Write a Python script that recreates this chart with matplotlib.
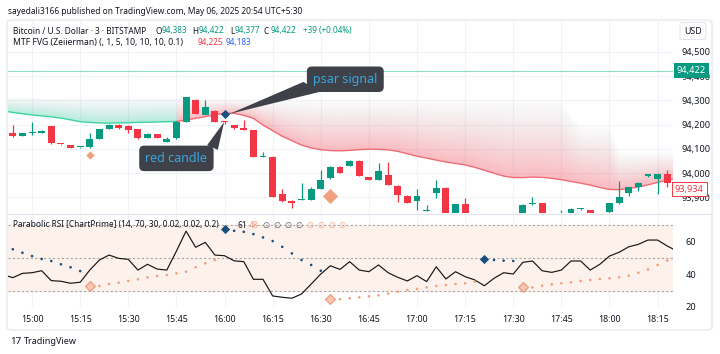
import matplotlib
matplotlib.use('Agg')
import matplotlib.pyplot as plt
import matplotlib.transforms as mtransforms
from matplotlib.patches import FancyBboxPatch, Polygon
import numpy as np

plt.rcParams['font.family'] = ['Noto Sans', 'DejaVu Sans']

# ---- data (3 min bars, index 0 = 15:00) ----
bars = list(range(-2, 67))
opens = [94165, 94155, 94165, 94167, 94195, 94121, 94116, 94106, 94107, 94142,
         94182, 94199, 94195, 94182, 94144, 94162, 94130, 94144, 94212, 94302,
         94240, 94258, 94212, 94199, 94185, 94178, 94067, 94068, 93915, 93887,
         93891, 93890, 93934, 93979, 94027, 94030, 94052, 93984, 93972, 93993,
         93948, 93907, 93887, 93845, 93918, 93941, 93830, 93872, 93815, 93800,
         93820, 93790, 93805, 93815, 93874, 93877, 93810, 93800, 93815, 93852,
         93848, 93805, 93842, 93877, 93918, 93942, 93990, 93977, 93997]
highs = [94199, 94167, 94212, 94177, 94196, 94122, 94118, 94108, 94166, 94183,
         94201, 94201, 94197, 94184, 94164, 94163, 94151, 94214, 94314, 94304,
         94302, 94260, 94213, 94200, 94219, 94179, 94089, 94069, 93934, 93889,
         93959, 93945, 94014, 94028, 94029, 94053, 94054, 93986, 94044, 94048,
         93950, 93909, 93934, 93869, 93972, 93943, 93874, 93898, 93825, 93838,
         93828, 93815, 93825, 93872, 93900, 93879, 93820, 93848, 93855, 93858,
         93850, 93830, 93879, 93966, 93945, 93962, 93998, 93999, 94014]
lows = [94151, 94153, 94158, 94166, 94121, 94118, 94103, 94104, 94105, 94140,
        94180, 94183, 94167, 94142, 94143, 94143, 94128, 94142, 94210, 94243,
        94238, 94209, 94201, 94184, 94177, 94067, 94066, 93900, 93882, 93856,
        93890, 93889, 93933, 93977, 93999, 94029, 93988, 93971, 93970, 93951,
        93883, 93878, 93849, 93843, 93897, 93790, 93820, 93815, 93780, 93795,
        93780, 93770, 93795, 93810, 93870, 93800, 93790, 93795, 93810, 93848,
        93800, 93795, 93820, 93875, 93905, 93925, 93984, 93915, 93945]
closes = [94153, 94165, 94167, 94175, 94123, 94119, 94105, 94107, 94141, 94181,
          94199, 94185, 94178, 94144, 94162, 94144, 94140, 94212, 94313, 94244,
          94274, 94210, 94209, 94185, 94178, 94068, 94069, 93901, 93887, 93877,
          93894, 93934, 93972, 94027, 94000, 94052, 93989, 93972, 94009, 93952,
          93911, 93879, 93907, 93847, 93941, 93800, 93872, 93820, 93790, 93834,
          93790, 93805, 93815, 93870, 93877, 93810, 93800, 93832, 93852, 93853,
          93805, 93825, 93877, 93901, 93942, 93959, 93995, 93997, 93961]

# MTF FVG line and the top of its shaded zone
fvg_bars = list(range(-3, 68))
fvg_line = [94257, 94250, 94245, 94240, 94236, 94232, 94227, 94220, 94212, 94209,
            94207, 94206, 94207, 94208, 94209, 94210, 94211, 94212, 94213, 94219,
            94226, 94233, 94240, 94247, 94247, 94238, 94226, 94198, 94175, 94152,
            94134, 94116, 94104, 94097, 94093, 94092, 94094, 94097, 94099, 94098,
            94096, 94090, 94080, 94070, 94062, 94054, 94046, 94040, 94034, 94024,
            94012, 94000, 93988, 93982, 93982, 93984, 93983, 93979, 93973, 93966,
            93959, 93951, 93941, 93933, 93932, 93937, 93943, 93952, 93962, 93972,
            93978]
fvg_top = [94312] * 19 + [94305] * 40 + [94240, 94195, 94195, 94195, 94195] + [94085] * 7
fvg_bull_until = 15

# Parabolic RSI
rsi_bars = list(range(-3, 68))
rsi = [39.5, 37.8, 40.4, 40.8, 42.0, 36.0, 35.6, 34.4, 35.0, 42.4,
       48.5, 51.5, 49.5, 48.9, 42.4, 45.9, 43.0, 42.4, 53.9, 66.0,
       56.2, 59.2, 51.5, 51.1, 48.0, 47.5, 36.8, 36.8, 26.7, 25.9,
       25.3, 27.9, 33.9, 40.0, 45.0, 42.8, 47.5, 42.4, 41.4, 45.5,
       40.8, 38.0, 35.8, 39.0, 35.4, 44.4, 37.0, 41.4, 38.4, 36.4,
       32.9, 37.4, 40.8, 40.0, 47.1, 47.9, 42.0, 41.0, 42.4, 47.9,
       47.9, 42.4, 45.9, 50.9, 53.2, 56.5, 58.0, 60.6, 60.6, 57.0,
       54.0]
sar_bars = list(range(-2, 67))
sar = [55.0, 52.9, 50.9, 49.1, 47.9, 45.9, 44.1, 41.8,
       32.9, 32.7, 33.9, 34.7, 35.8, 36.8, 38.0, 38.8, 39.4, 40.4, 41.4, 44.1, 46.5, 48.5,
       67.1, 66.2, 65.6, 64.2, 62.2, 60.0, 56.5, 52.5, 48.5, 45.5, 42.0,
       24.7, 24.7, 25.3, 25.9, 26.5, 27.1, 28.1, 29.3, 30.3, 30.9, 31.9, 32.7, 33.3, 33.9, 34.4, 35.4,
       48.9, 48.5, 48.1, 47.9,
       31.9, 31.9, 32.9, 33.7, 34.4, 35.0, 35.8, 36.4, 37.0, 37.4, 38.0, 39.0, 40.8, 42.8, 45.5, 48.1]
sar_trend = [-1] * 8 + [1] * 14 + [-1] * 11 + [1] * 16 + [-1] * 4 + [1] * 16

# signals shown on the price pane
sig_bars = [6, 20, 31]
sig_prices = [94075, 94244, 93907]
sig_trend = [1, -1, 1]
sig_sizes = [18, 22, 60]

tick_bars = list(range(0, 66, 5))
tick_labels = ['15:00', '15:15', '15:30', '15:45', '16:00', '16:15', '16:30',
               '16:45', '17:00', '17:15', '17:30', '17:45', '18:00', '18:15']
price_ticks = [93900, 94000, 94100, 94200, 94300, 94400, 94500]
last_price = 94422
fvg_last = 93934

UP = '#089981'
DN = '#F23645'
SAL = '#EFA07E'
NAVY = '#17507F'
GRID = '#F0F3FA'
TXT = '#131722'

W, H = 720, 354
fig = plt.figure(figsize=(7.2, 3.54), dpi=100)
fx = lambda px: px / W
fy = lambda py: 1 - py / H

# chart frame (behind the axes)
frame = FancyBboxPatch((fx(7), fy(330)), fx(705), 310 / H,
                       boxstyle='round,pad=0,rounding_size=0.008',
                       transform=fig.transFigure, fc='white', ec='#E0E3EB', lw=0.8, zorder=-10)
fig.patches.append(frame)

ax = fig.add_axes([fx(8), fy(213), 665 / W, 193 / H])
ax2 = fig.add_axes([fx(8), fy(307), 665 / W, 93 / H], sharex=ax)
for a in (ax, ax2):
    for s in a.spines.values():
        s.set_visible(False)
    a.set_facecolor('none')
ax.set_xlim(-2.5, 66.6)
ax.set_ylim(93836, 94631)
ax2.set_ylim(20, 76.4)

# grid
for a in (ax, ax2):
    for t in tick_bars:
        a.axvline(t, color=GRID, lw=0.8, zorder=0)
for p in price_ticks:
    ax.axhline(p, color=GRID, lw=0.8, zorder=0)
for p in (20, 40, 60):
    ax2.axhline(p, color=GRID, lw=0.8, zorder=0)

# FVG gradient zone
xs = np.linspace(-3, 67, 900)
ys = np.linspace(93836, 94631, 300)
ln = np.interp(xs, fvg_bars, fvg_line)
tp = np.interp(xs, fvg_bars, fvg_top)
t = (ys[:, None] - ln[None, :]) / (tp - ln)[None, :]
inside = (t >= 0) & (t <= 1)
t = np.clip(t, 0, 1)
red = np.array([242, 54, 69]) / 255
grn = np.array([34, 200, 150]) / 255
gray = np.array([190, 192, 198]) / 255
base = np.where((xs <= fvg_bull_until)[None, :, None], grn, red)
rgb = base * (1 - t[..., None]) + gray * t[..., None]
alpha = np.where(inside, 0.34 * (1 - t) ** 0.55, 0)
img = np.dstack([rgb, alpha])
ax.imshow(img, extent=(xs[0], xs[-1], ys[0], ys[-1]), origin='lower', aspect='auto',
          interpolation='bilinear', zorder=1)
fb = np.array(fvg_bars)
fl = np.array(fvg_line)
ax.plot(fb[fb <= fvg_bull_until], fl[fb <= fvg_bull_until], color='#3FD3A2', lw=1, zorder=2)
ax.plot(fb[fb >= fvg_bull_until], fl[fb >= fvg_bull_until], color='#EE6B76', lw=1, zorder=2)

ax.axhline(last_price, color='#5FCFAE', lw=0.8, alpha=0.7, zorder=2)

# candles
o = np.array(opens); c = np.array(closes)
cols = [UP if cc >= oo else DN for oo, cc in zip(opens, closes)]
ax.vlines(bars, lows, highs, colors=cols, lw=0.9, zorder=3)
bot = np.minimum(o, c)
hgt = np.maximum(np.abs(c - o), 4)
ax.bar(bars, hgt, bottom=bot, width=0.72, color=cols, lw=0, zorder=4)

for b, p, tr, s in zip(sig_bars, sig_prices, sig_trend, sig_sizes):
    ax.scatter(b, p, marker='D', s=s, color=SAL if tr > 0 else NAVY, lw=0, zorder=5)

# RSI pane
ax2.axhspan(30, 70, color='#FDF1EB', zorder=0)
for lv in (70, 50, 30):
    ax2.axhline(lv, color='#A8A8A8', lw=0.8, ls=(0, (2, 2)), zorder=1)
ax2.plot(rsi_bars, rsi, color='#161616', lw=0.85, zorder=3)
sb = np.array(sar_bars); sv = np.array(sar); st = np.array(sar_trend)
scol = [SAL if v > 0 else NAVY for v in st]
ax2.scatter(sb, sv, s=3.5, c=scol, lw=0, zorder=4)
flips = [i for i in range(1, len(st)) if st[i] != st[i - 1]]
for i in flips:
    if st[i] > 0:
        ax2.scatter(sb[i], sv[i], marker='D', s=24, color='#F6C9B4', ec=SAL, lw=1, zorder=5)
    else:
        ax2.scatter(sb[i], sv[i], marker='D', s=22, color=NAVY, lw=0, zorder=5)

# axes ticks
ax.yaxis.tick_right()
ax.set_yticks(price_ticks)
ax.set_yticklabels([f'{p:,}' for p in price_ticks])
ax.tick_params(axis='y', length=0, pad=6, labelsize=6.6, labelcolor=TXT)
ax.tick_params(axis='x', length=0, labelbottom=False)
ax2.yaxis.tick_right()
ax2.set_yticks([20, 40, 60])
ax2.tick_params(axis='y', length=0, pad=9, labelsize=6.6, labelcolor=TXT)
ax2.set_xticks(tick_bars)
ax2.set_xticklabels(tick_labels)
ax2.tick_params(axis='x', length=0, pad=6, labelsize=6.4, labelcolor=TXT)
for lab in ax2.get_xticklabels():
    if lab.get_text().endswith(':00'):
        lab.set_fontweight('bold')

# pane separator
fig.add_artist(plt.Line2D([fx(7), fx(712)], [fy(214), fy(214)], color='#E0E3EB', lw=0.8))

# price tags
bt = mtransforms.blended_transform_factory(ax.transAxes, ax.transData)
ax.text(1.006, last_price, f'{last_price:,}', transform=bt, ha='left', va='center', fontsize=6.6,
        color='white', clip_on=False, zorder=10,
        bbox=dict(boxstyle='square,pad=0.3', fc=UP, ec='none'))
ax.text(1.003, fvg_last, f'{fvg_last:,}', transform=bt, ha='left', va='center', fontsize=6.6,
        color=DN, clip_on=False, zorder=10,
        bbox=dict(boxstyle='square,pad=0.3', fc='white', ec=DN, lw=0.7))
fig.text(fx(684), fy(31), 'USD', fontsize=6.4, color=TXT, va='center',
         bbox=dict(boxstyle='round,pad=0.45,rounding_size=0.2', fc='white', ec='#E0E3EB', lw=0.7))

# annotations
BOX = '#3E4248'
BLUE_TXT = '#3AA5DE'
ax.add_patch(Polygon([(28.2, 94376), (29.9, 94335), (20.5, 94244)], closed=True, fc=BOX, ec='none', zorder=6))
ax.add_patch(Polygon([(18.2, 94116), (19.3, 94096), (19.96, 94211)], closed=True, fc=BOX, ec='none', zorder=6))
ax.text(32.55, 94387, 'psar signal', ha='center', va='center', fontsize=9, color=BLUE_TXT, zorder=7,
        bbox=dict(boxstyle='round,pad=0.5,rounding_size=0.4', fc=BOX, ec='none'))
ax.text(15.0, 94061, 'red candle', ha='center', va='center', fontsize=9, color=BLUE_TXT, zorder=7,
        bbox=dict(boxstyle='round,pad=0.5,rounding_size=0.4', fc=BOX, ec='none'))

# header / legends
fig.text(fx(8), fy(11), 'sayedali3166 published on TradingView.com, May 06, 2025 20:54 UTC+5:30',
         fontsize=6.0, color=TXT, va='center')
leg1 = [('Bitcoin / U.S. Dollar · 3 · BITSTAMP', 13, TXT, 6.0), ('O', 155, TXT, 5.9),
        ('94,383', 162, UP, 5.9), ('H', 192, TXT, 5.9), ('94,422', 199, UP, 5.9),
        ('L', 230, TXT, 5.9), ('94,377', 235, UP, 5.9), ('C', 264, TXT, 5.9),
        ('94,422', 271, UP, 5.9), ('+39 (+0.04%)', 303, UP, 5.9)]
for s, x, col, fs in leg1:
    fig.text(fx(x), fy(31), s, fontsize=fs, color=col, va='center')
leg2 = [('MTF FVG (Zeiierman) (, 1, 5, 10, 10, 10, 0.1)', 13, TXT, 6.2), ('94,225', 198, DN, 5.9),
        ('94,183', 226, '#2962FF', 5.9)]
for s, x, col, fs in leg2:
    fig.text(fx(x), fy(43), s, fontsize=fs, color=col, va='center')
leg3 = [('Parabolic RSI [ChartPrime] (14, 70, 30, 0.02, 0.02, 0.2)', 13, TXT, 6.0),
        ('61', 237, TXT, 5.9), ('48', 249, SAL, 5.9)]
leg3 += [('∅', x, '#555555', 5.9) for x in (262, 273, 284, 295)]
leg3 += [('∅', x, SAL, 5.9) for x in (306, 317, 328, 338)]
for s, x, col, fs in leg3:
    fig.text(fx(x), fy(225), s, fontsize=fs, color=col, va='center')

fig.text(fx(10), fy(341), '17', fontsize=7, fontweight='bold', color=TXT, va='center')
fig.text(fx(24), fy(341), 'TradingView', fontsize=6.5, color=TXT, va='center')

fig.savefig('out.png', dpi=100)
